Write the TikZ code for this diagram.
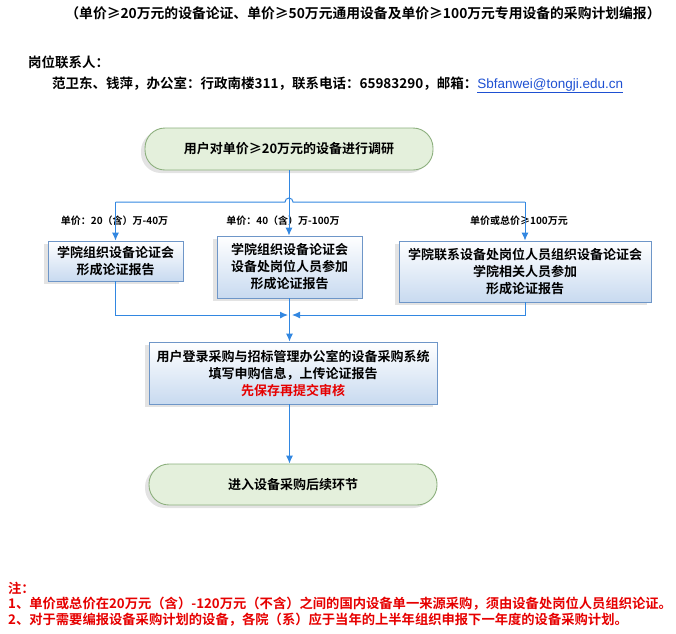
\documentclass[tikz,border=0pt]{standalone}
\usepackage{fontspec}
\setmainfont{Noto Sans CJK SC}[BoldFont={Noto Sans CJK SC Bold}]
\newfontfamily\latinfont{Liberation Sans}
\usetikzlibrary{arrows.meta,shadows}
\definecolor{lineblue}{RGB}{50,135,225}
\definecolor{boxborder}{RGB}{110,150,200}
\definecolor{boxbottom}{RGB}{200,218,240}
\definecolor{greenfill}{RGB}{228,240,220}
\definecolor{greenborder}{RGB}{140,175,125}
\definecolor{notered}{RGB}{230,0,0}
\definecolor{linkblue}{RGB}{30,80,210}
\tikzset{
  bluebox/.style={draw=boxborder, line width=0.9pt, top color=white, bottom color=boxbottom,
    align=center, font=\fontsize{13}{17}\selectfont\bfseries, inner sep=0pt,
    drop shadow={shadow xshift=-4pt, shadow yshift=-3pt, opacity=0.22}},
  greenbox/.style={draw=greenborder, line width=0.9pt, fill=greenfill, rounded corners=20pt,
    align=center, font=\fontsize{13}{17}\selectfont\bfseries, inner sep=0pt,
    drop shadow={shadow xshift=-4pt, shadow yshift=-3pt, opacity=0.22}},
  conn/.style={draw=lineblue, line width=1pt},
  arr/.style={conn, -{Latex[length=8pt,width=7pt]}},
  lbl/.style={font=\fontsize{10}{12}\selectfont\bfseries, inner sep=0pt},
  note/.style={font=\fontsize{13.3}{16}\selectfont\bfseries, text=notered, anchor=west, inner sep=0pt}
}
\begin{document}
\begin{tikzpicture}[x=1pt, y=-1pt]
\useasboundingbox (0,0) rectangle (676,633);
% header
\node[font=\fontsize{13.8}{16}\selectfont\bfseries, inner sep=0pt] (title) at (363,13)
  {（单价≥20万元的设备论证、单价≥50万元通用设备及单价≥100万元专用设备的采购计划编报）};
\node[font=\fontsize{13.5}{16}\selectfont\bfseries, anchor=west, inner sep=0pt] (contacthead) at (28,62) {岗位联系人：};
\node[font=\fontsize{13.5}{16}\selectfont\bfseries, anchor=west, inner sep=0pt] (contact) at (52,85)
  {范卫东、钱萍，办公室：行政南楼311，联系电话：65983290，邮箱：{\mdseries\latinfont\color{linkblue}\underline{Sbfanwei@tongji.edu.cn}}};
% boxes
\node[greenbox, minimum width=288pt, minimum height=42pt] (top) at (289,149) {用户对单价≥20万元的设备进行调研};
\node[bluebox, minimum width=135pt, minimum height=40pt] (b1) at (115.5,261) {学院组织设备论证会\\形成论证报告};
\node[bluebox, minimum width=145pt, minimum height=62pt] (b2) at (289.5,267) {学院组织设备论证会\\设备处岗位人员参加\\形成论证报告};
\node[bluebox, minimum width=252pt, minimum height=61pt] (b3) at (525,271.5) {学院联系设备处岗位人员组织设备论证会\\学院相关人员参加\\形成论证报告};
\node[bluebox, minimum width=288pt, minimum height=62pt] (b4) at (293,373) {用户登录采购与招标管理办公室的设备采购系统\\填写申购信息，上传论证报告\\{\color{notered}先保存再提交审核}};
\node[greenbox, minimum width=288pt, minimum height=41pt] (b5) at (293,484.5) {进入设备采购后续环节};
% branch labels
\node[lbl] (l1) at (114.5,221) {单价：20（含）万-40万};
\node[lbl] (l2) at (283,221) {单价：40（含）万-100万};
\node[lbl] (l3) at (519,221) {单价或总价≥100万元};
% connectors
\coordinate (j1) at (b1.north |- 0,202);
\coordinate (j3) at (b3.north |- 0,202);
\coordinate (hopL) at (285,202);
\coordinate (m1) at (b1.south |- 0,315);
\coordinate (m3) at (b3.south |- 0,315);
\coordinate (mL) at (288,315);
\coordinate (mR) at (292,315);
\draw[arr] (top.south) -- (top.south |- b2.north);
\draw[conn] (j1) -- (hopL) arc[start angle=180, end angle=0, radius=4pt] -- (j3);
\draw[arr] (j1) -- (b1.north);
\draw[arr] (j3) -- (b3.north);
\draw[arr] (b1.south) -- (m1) -- (mL);
\draw[arr] (b3.south) -- (m3) -- (mR);
\draw[arr] (b2.south) -- (b2.south |- b4.north);
\draw[arr] (b4.south -| b2.south) -- (b2.south |- b5.north);
% notes
\node[note] (n0) at (8,588) {注：};
\node[note] (n1) at (8,604) {1、单价或总价在20万元（含）-120万元（不含）之间的国内设备单一来源采购，须由设备处岗位人员组织论证。};
\node[note] (n2) at (8,620) {2、对于需要编报设备采购计划的设备，各院（系）应于当年的上半年组织申报下一年度的设备采购计划。};
\end{tikzpicture}
\end{document}
